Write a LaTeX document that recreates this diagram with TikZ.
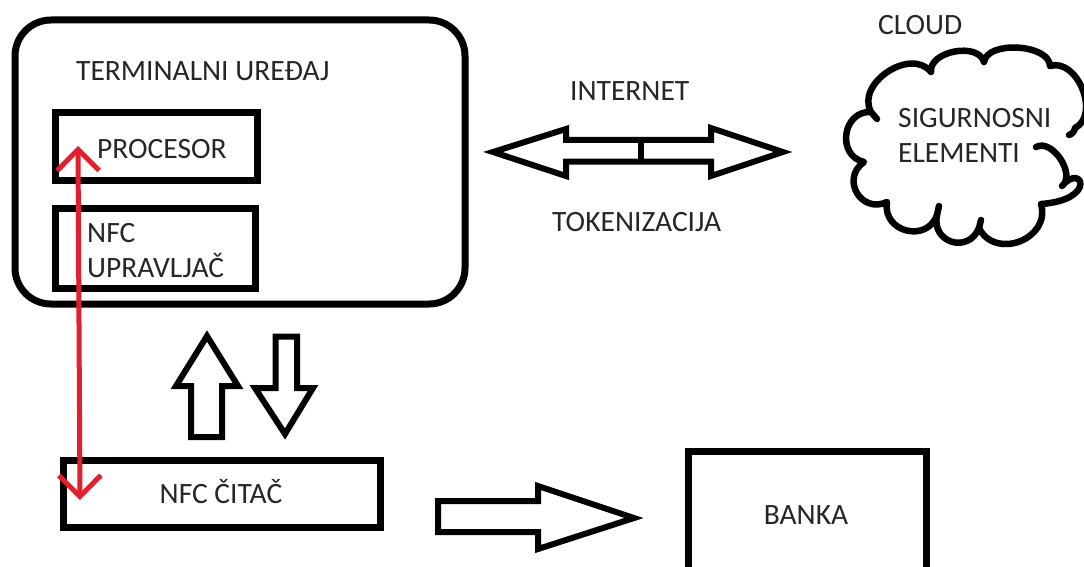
\documentclass[tikz,border=0pt]{standalone}
\usepackage{fontspec}
\setmainfont{Carlito}
\usetikzlibrary{arrows.meta}
\definecolor{txt}{HTML}{262626}
\definecolor{redarr}{HTML}{E0202E}
\begin{document}
\begin{tikzpicture}[x=1pt,y=-1pt,
  box/.style={draw=black, line width=7pt, inner sep=0pt, minimum width=#1},
  lbl/.style={font=\fontsize{29.5}{34}\selectfont, text=txt, inner sep=0pt},
  hollow/.style={draw=black, line width=6pt, line join=miter, miter limit=10},
  cloudline/.style={draw=black, line width=6.5pt, line join=round, line cap=round},
  redline/.style={draw=redarr, line width=5pt, {Straight Barb[length=21pt,width=42pt,line width=5pt]}-{Straight Barb[length=21pt,width=42pt,line width=5pt]}}]
\useasboundingbox (0,0) rectangle (1084,567);
\fill[white] (0,0) rectangle (1084,567);
% boxes
\node[box=450pt, minimum height=284pt, rounded corners=36pt] (term) at (240,162) {};
\node[box=202pt, minimum height=67pt] (proc) at (156,146.5) {};
\node[box=200pt, minimum height=80pt] (nfcu) at (155,248) {};
\node[box=317pt, minimum height=67pt] (nfcr) at (221.5,493.5) {};
\node[box=238pt, minimum height=200pt] (banka) at (807,551) {};
% cloud outline
\coordinate (cl) at (965,147);
\draw[cloudline] (1036,147) to[bend left=85, looseness=1.0] (1062,186)
  .. controls (1082,162) and (1098,200) .. (1041,204)
  to[bend left=85, looseness=1.4] (979,228)
  to[bend left=85, looseness=1.65] (937,215)
  to[bend left=85, looseness=1.5] (887,202)
  to[bend left=85, looseness=1.6] (864,162)
  to[bend left=85, looseness=1.45] (871,112)
  to[bend left=85, looseness=1.15] (931,72)
  to[bend left=85, looseness=1.0] (984,62)
  to[bend left=85, looseness=0.85] (1050,66)
  to[bend left=85, looseness=1.1] (1075,128)
  to[bend left=30] (1069,135);
\draw[cloudline] (871,112) -- (877,119);
\draw[cloudline] (937,215) -- (939,206);
\draw[cloudline] (979,228) -- (981,220);
% labels
\node[lbl, anchor=base west] (tTerm) at (76,81) {TERMINALNI UREĐAJ};
\node[lbl, anchor=base west] (tProc) at (97,158) {PROCESOR};
\node[lbl, anchor=base west] (tNfcu) at (87,242) {NFC};
\node[lbl, anchor=base west] (tNfcu2) at (87,277) {UPRAVLJAČ};
\node[lbl, anchor=base] (tNfcr) at (221,503) {NFC ČITAČ};
\node[lbl, anchor=base] (tBanka) at (806,524) {BANKA};
\node[lbl, anchor=base west] (tInternet) at (570,101) {INTERNET};
\node[lbl, anchor=base west] (tToken) at (552,231) {TOKENIZACIJA};
\node[lbl, anchor=base west] (tCloud) at (878,35) {CLOUD};
\node[lbl, anchor=base west] (tSig) at (898,128) {SIGURNOSNI};
\node[lbl, anchor=base west] (tEl) at (898,162) {ELEMENTI};
% hollow arrows
\draw[hollow] (191,437) -- (191,386) -- (176,386) -- (207,336) -- (238,386) -- (222,386) -- (222,437) -- cycle;
\draw[hollow] (275.5,336.5) -- (297,336.5) -- (297,388) -- (313,388) -- (285,434) -- (255,388) -- (275.5,388) -- cycle;
\draw[hollow] (493,152) -- (566,129) -- (566,140) -- (711,140) -- (711,128) -- (783,152) -- (711,176) -- (711,161.5) -- (566,161.5) -- (566,176) -- cycle;
\draw[hollow] (641,140) -- (641,161.5);
\draw[hollow] (438,501) -- (538,501) -- (538,486) -- (634,518) -- (538,549) -- (538,532) -- (438,532) -- cycle;
% red arrow
\coordinate (rtop) at (78,146);
\coordinate (rbot) at (80,500);
\draw[redline] (rbot) -- (rtop);
\end{tikzpicture}
\end{document}
